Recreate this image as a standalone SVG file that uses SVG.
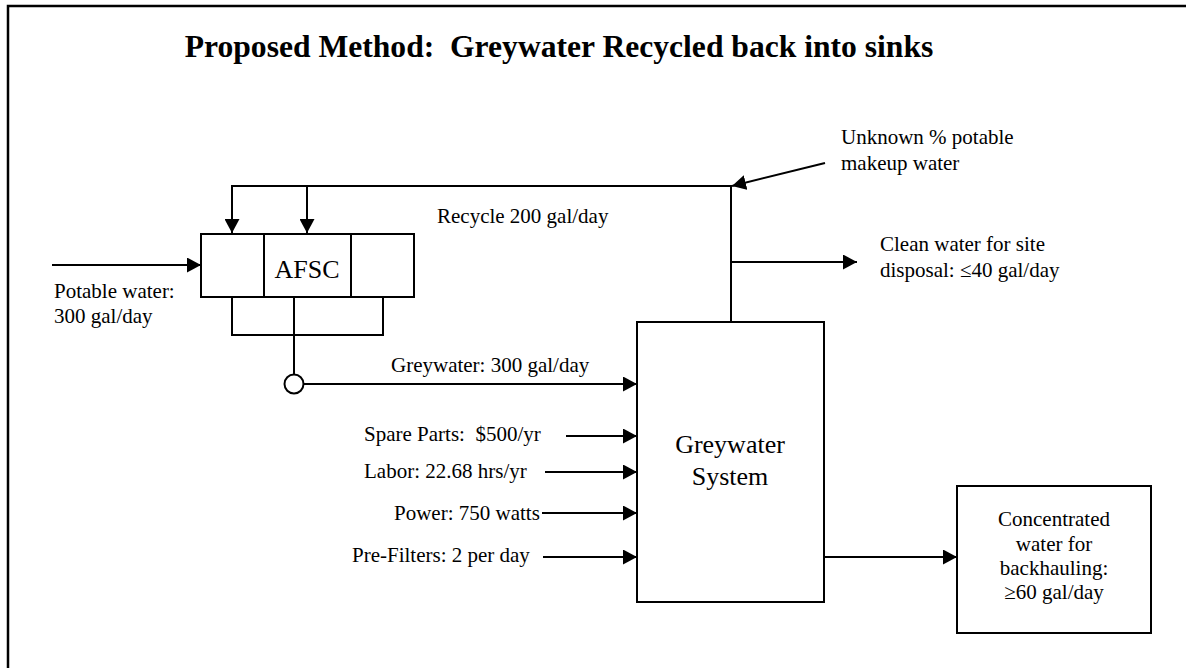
<svg xmlns="http://www.w3.org/2000/svg" width="1186" height="668" viewBox="0 0 1186 668" font-family="'Liberation Serif','Times New Roman',serif">
<style>
text{font-family:"Liberation Serif","Times New Roman",serif;fill:#000}
.t{font-size:21px}
.b{font-size:26px}
.ln{fill:none;stroke:#000;stroke-width:2}
.box{fill:#fff;stroke:#000;stroke-width:2}
</style>
<defs>
<marker id="ah" markerWidth="14" markerHeight="15" refX="14" refY="7.5" orient="auto" markerUnits="userSpaceOnUse">
<path d="M0,0 L14,7.5 L0,15 Z" fill="#000"/>
</marker>
</defs>
<rect width="1186" height="668" fill="#fff"/>
<path d="M8,670 V6 H1190" fill="none" stroke="#000" stroke-width="2.5"/>
<text x="559" y="57" text-anchor="middle" font-size="31.6" font-weight="bold" xml:space="preserve">Proposed Method:  Greywater Recycled back into sinks</text>

<g id="connectors">
<path class="ln" d="M731,322 V186 H232 V233" marker-end="url(#ah)"/>
<path class="ln" d="M307,186 V233" marker-end="url(#ah)"/>
<path class="ln" d="M825,163 L732,186" marker-end="url(#ah)"/>
<path class="ln" d="M731,262 H857" marker-end="url(#ah)"/>
<path class="ln" d="M52,265 H201" marker-end="url(#ah)"/>
<path class="ln" d="M232,297 V335 H383 V297"/>
<path class="ln" d="M294,297 V335"/>
<path class="ln" d="M294,335 V374" stroke-width="2.5"/>
<path class="ln" d="M304,384 H637" marker-end="url(#ah)"/>
<path class="ln" d="M566,436 H637" marker-end="url(#ah)"/>
<path class="ln" d="M545,472 H637" marker-end="url(#ah)"/>
<path class="ln" d="M542,513 H637" marker-end="url(#ah)"/>
<path class="ln" d="M543,557 H637" marker-end="url(#ah)"/>
<path class="ln" d="M824,557 H957" marker-end="url(#ah)"/>
<circle cx="294" cy="384" r="9.5" fill="#fff" stroke="#000" stroke-width="2"/>
</g>

<g id="afsc">
<rect class="box" x="201" y="234" width="213" height="63"/>
<path class="ln" d="M264,234 V297 M351,234 V297"/>
<text class="b" x="307" y="278" text-anchor="middle">AFSC</text>
</g>

<g id="greywater-system">
<rect class="box" x="637" y="322" width="187" height="280"/>
<text class="b" x="730" y="453" text-anchor="middle">Greywater</text>
<text class="b" x="730" y="485" text-anchor="middle">System</text>
</g>

<g id="concentrated">
<rect class="box" x="957" y="486" width="194" height="147"/>
<text class="t" x="1054" y="526" text-anchor="middle">Concentrated</text>
<text class="t" x="1054" y="551" text-anchor="middle">water for</text>
<text class="t" x="1054" y="575" text-anchor="middle">backhauling:</text>
<text class="t" x="1054" y="599" text-anchor="middle">≥60 gal/day</text>
</g>

<g id="labels">
<text class="t" x="54" y="298">Potable water:</text>
<text class="t" x="54" y="323">300 gal/day</text>
<text class="t" x="437" y="223">Recycle 200 gal/day</text>
<text class="t" x="841" y="144">Unknown % potable</text>
<text class="t" x="841" y="170">makeup water</text>
<text class="t" x="880" y="251">Clean water for site</text>
<text class="t" x="880" y="277">disposal: ≤40 gal/day</text>
<text class="t" x="391" y="372">Greywater: 300 gal/day</text>
<text class="t" x="364" y="441" xml:space="preserve">Spare Parts:  $500/yr</text>
<text class="t" x="364" y="478">Labor: 22.68 hrs/yr</text>
<text class="t" x="394" y="520">Power: 750 watts</text>
<text class="t" x="352" y="562">Pre-Filters: 2 per day</text>
</g>
</svg>
